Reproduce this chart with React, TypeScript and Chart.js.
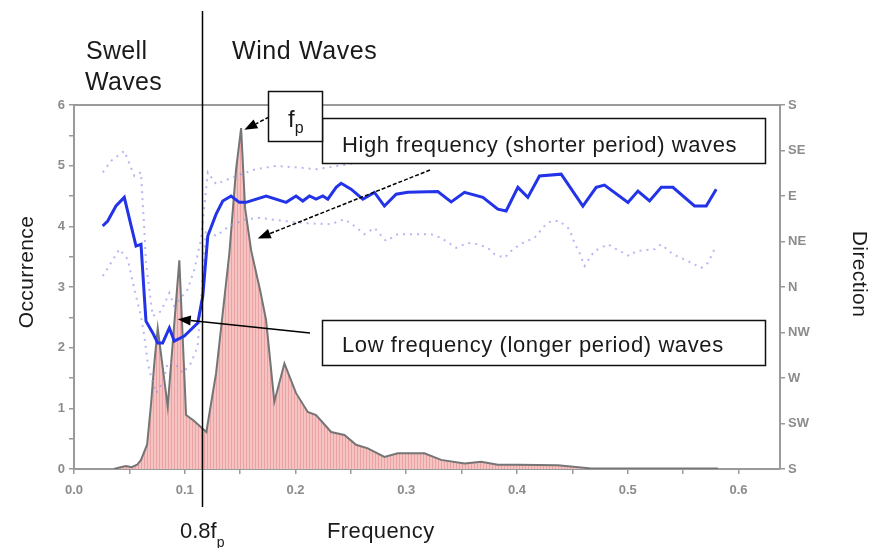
import React, { useEffect, useRef } from "react";
import { Chart, registerables } from "chart.js";

Chart.register(...registerables);

// ---- Data ----
const occFreq = [
  0.036, 0.042, 0.047, 0.052, 0.057, 0.0605, 0.066, 0.0696, 0.0725, 0.0756,
  0.0846, 0.0951, 0.1012, 0.108, 0.1195, 0.1283, 0.1403, 0.1463, 0.1509, 0.1545,
  0.160, 0.168, 0.1734, 0.1809, 0.19, 0.2005, 0.2111, 0.2186, 0.2322, 0.2442,
  0.2547, 0.2653, 0.2803, 0.2924, 0.3164, 0.3315, 0.3526, 0.3677, 0.3827, 0.4008,
  0.4369, 0.467, 0.5815,
];
const occValues = [
  0.0, 0.03, 0.05, 0.03, 0.07, 0.15, 0.4, 1.08, 1.74, 2.32,
  1.03, 3.44, 0.89, 0.8, 0.61, 1.58, 3.56, 4.93, 5.62, 4.3,
  3.6, 2.95, 2.46, 1.11, 1.74, 1.25, 0.94, 0.89, 0.61, 0.56,
  0.4, 0.34, 0.2, 0.26, 0.26, 0.15, 0.09, 0.12, 0.07, 0.07,
  0.06, 0.01, 0.01,
];

// Mean direction (0 = S, 1 = SW, 2 = W, 3 = NW, 4 = N, 5 = NE, 6 = E, 7 = SE, 8 = S)
const dirFreq = [
  0.0259, 0.0304, 0.0379, 0.0454, 0.056, 0.0605, 0.0635, 0.065, 0.0711, 0.0756,
  0.0801, 0.0861, 0.0906, 0.0996, 0.1117, 0.1163, 0.1208, 0.1283, 0.1343, 0.1418,
  0.1493, 0.1554, 0.1735, 0.1915, 0.2005, 0.2066, 0.2126, 0.2186, 0.2247, 0.2292,
  0.2367, 0.2412, 0.2502, 0.2608, 0.2713, 0.2803, 0.2909, 0.3014, 0.3285, 0.3406,
  0.3526, 0.3692, 0.3827, 0.3902, 0.4008, 0.4098, 0.4203, 0.4399, 0.4595, 0.4715,
  0.479, 0.5002, 0.5092, 0.5197, 0.5303, 0.5408, 0.5603, 0.5709, 0.5799,
];
const dirValues = [
  5.34, 5.45, 5.78, 5.97, 4.9, 4.94, 3.8, 3.25, 2.99, 2.77,
  2.77, 3.1, 2.81, 2.92, 3.21, 3.8, 5.12, 5.6, 5.89, 6.0,
  5.86, 5.86, 6.0, 5.86, 6.0, 5.89, 6.0, 5.93, 6.0, 5.93,
  6.19, 6.28, 6.15, 5.93, 6.08, 5.78, 6.04, 6.08, 6.1, 5.87,
  6.08, 5.97, 5.71, 5.67, 6.19, 5.97, 6.44, 6.48, 5.78, 6.19,
  6.24, 5.86, 6.11, 5.89, 6.19, 6.19, 5.78, 5.78, 6.15,
];

// Upper spread of direction (dotted)
const upperFreq = [
  0.026, 0.0334, 0.0454, 0.0545, 0.0605, 0.062, 0.0635, 0.065, 0.068, 0.0711,
  0.0786, 0.0861, 0.0906, 0.1027, 0.1087, 0.1147, 0.1208, 0.1283, 0.1463, 0.1644,
  0.1825, 0.2005, 0.2186, 0.2306, 0.26, 0.3, 0.34, 0.38, 0.42, 0.46,
  0.5, 0.54, 0.58,
];
const upperValues = [
  6.52, 6.77, 6.99, 6.44, 6.52, 5.86, 5.27, 4.53, 3.95, 3.36,
  3.47, 3.87, 3.58, 3.95, 4.39, 5.05, 6.52, 6.26, 6.44, 6.59,
  6.66, 6.63, 6.59, 6.63, 6.75, 6.8, 6.75, 6.9, 6.85, 6.95,
  6.9, 6.95, 6.9,
];

// Lower spread of direction (dotted)
const lowerFreq = [
  0.026, 0.0334, 0.0409, 0.0485, 0.0545, 0.0605, 0.0635, 0.0666, 0.0696, 0.0741,
  0.0801, 0.0846, 0.0906, 0.0982, 0.1057, 0.1117, 0.1163, 0.1192, 0.1283, 0.1403,
  0.1554, 0.1674, 0.19, 0.21, 0.2322, 0.2442, 0.2532, 0.2622, 0.2713, 0.2818,
  0.2924, 0.3074, 0.3225, 0.3315, 0.3451, 0.3556, 0.3647, 0.3737, 0.3797, 0.3887,
  0.3963, 0.4053, 0.4158, 0.4248, 0.4309, 0.4384, 0.4474, 0.4519, 0.4565, 0.461,
  0.4655, 0.47, 0.4821, 0.4896, 0.5016, 0.5077, 0.5242, 0.5303, 0.5408, 0.5544,
  0.5664, 0.5724, 0.5784,
];
const lowerValues = [
  4.24, 4.53, 4.83, 4.61, 3.95, 3.36, 2.92, 2.33, 2.03, 1.67,
  1.89, 2.33, 2.33, 2.11, 2.33, 2.7, 4.24, 5.27, 5.12, 5.34,
  5.49, 5.52, 5.45, 5.4, 5.38, 5.49, 5.34, 5.16, 5.3, 5.01,
  5.16, 5.16, 5.16, 5.08, 4.86, 4.97, 4.94, 4.86, 4.72, 4.64,
  4.83, 4.97, 5.08, 5.34, 5.45, 5.45, 5.27, 4.97, 4.75, 4.46,
  4.64, 4.79, 4.94, 4.83, 4.68, 4.79, 4.83, 4.94, 4.72, 4.57,
  4.42, 4.53, 4.83,
];

const xTickLabels = ["0.0", "0.1", "0.2", "0.3", "0.4", "0.5", "0.6"];
const yTickLabels = ["0", "1", "2", "3", "4", "5", "6"];
const dirLabels = ["S", "SW", "W", "NW", "N", "NE", "E", "SE", "S"];

const markerFreq = 0.116; // 0.8 fp line
const fpTip = { x: 0.1538, y: 5.59 };
const highTip = { x: 0.1659, y: 3.8 };
const lowTip = { x: 0.0937, y: 2.47 };

const FONT = '"Liberation Sans", Arial, sans-serif';

function drawArrow(
  ctx: CanvasRenderingContext2D,
  x1: number,
  y1: number,
  x2: number,
  y2: number,
  dashed: boolean
) {
  const ang = Math.atan2(y2 - y1, x2 - x1);
  const hl = 13;
  const hw = 5;
  const bx = x2 - hl * Math.cos(ang);
  const by = y2 - hl * Math.sin(ang);
  ctx.save();
  ctx.strokeStyle = "#000";
  ctx.fillStyle = "#000";
  ctx.lineWidth = 1.5;
  ctx.setLineDash(dashed ? [4, 2] : []);
  ctx.beginPath();
  ctx.moveTo(x1, y1);
  ctx.lineTo(bx, by);
  ctx.stroke();
  ctx.setLineDash([]);
  ctx.beginPath();
  ctx.moveTo(x2, y2);
  ctx.lineTo(bx + hw * Math.sin(ang), by - hw * Math.cos(ang));
  ctx.lineTo(bx - hw * Math.sin(ang), by + hw * Math.cos(ang));
  ctx.closePath();
  ctx.fill();
  ctx.restore();
}

function drawBox(ctx: CanvasRenderingContext2D, x: number, y: number, w: number, h: number) {
  ctx.save();
  ctx.fillStyle = "#fff";
  ctx.fillRect(x, y, w, h);
  ctx.strokeStyle = "#111";
  ctx.lineWidth = 1.5;
  ctx.strokeRect(x + 0.5, y + 0.5, w, h);
  ctx.restore();
}

function setSpacing(ctx: CanvasRenderingContext2D, px: number) {
  (ctx as any).letterSpacing = `${px}px`;
}

const annotationPlugin = {
  id: "waveAnnotations",
  afterDraw(chart: any) {
    const ctx: CanvasRenderingContext2D = chart.ctx;
    const xs = chart.scales.x;
    const ys = chart.scales.y;
    const area = chart.chartArea;
    ctx.save();

    // top frame line
    ctx.strokeStyle = "#9a9a9a";
    ctx.lineWidth = 2;
    ctx.beginPath();
    ctx.moveTo(area.left, area.top);
    ctx.lineTo(area.right, area.top);
    ctx.stroke();

    // 0.8 fp vertical line
    const vx = Math.round(xs.getPixelForValue(markerFreq)) + 0.5;
    ctx.strokeStyle = "#000";
    ctx.lineWidth = 1.5;
    ctx.beginPath();
    ctx.moveTo(vx, 11);
    ctx.lineTo(vx, 507);
    ctx.stroke();

    // region labels
    ctx.fillStyle = "#1a1a1a";
    ctx.textAlign = "left";
    ctx.textBaseline = "alphabetic";
    ctx.font = `25px ${FONT}`;
    setSpacing(ctx, 0.3);
    ctx.fillText("Swell", 86, 59);
    ctx.fillText("Waves", 85, 90);
    setSpacing(ctx, 0.6);
    ctx.fillText("Wind Waves", 232, 59);
    setSpacing(ctx, 0);

    // arrows
    drawArrow(ctx, 430, 170, xs.getPixelForValue(highTip.x), ys.getPixelForValue(highTip.y), true);
    drawArrow(ctx, 310, 333, xs.getPixelForValue(lowTip.x), ys.getPixelForValue(lowTip.y), false);
    drawArrow(ctx, 269, 117, xs.getPixelForValue(fpTip.x), ys.getPixelForValue(fpTip.y), true);

    // boxes
    drawBox(ctx, 322, 118, 443, 45);
    drawBox(ctx, 322, 320, 443, 45);
    drawBox(ctx, 268, 91, 54, 50);

    ctx.fillStyle = "#1a1a1a";
    ctx.font = `22px ${FONT}`;
    setSpacing(ctx, 0.6);
    ctx.fillText("High frequency (shorter period) waves", 342, 152);
    ctx.fillText("Low frequency (longer period) waves", 342, 352);
    setSpacing(ctx, 0);

    // f_p
    ctx.font = `24px ${FONT}`;
    ctx.fillText("f", 288, 127);
    const fw = ctx.measureText("f").width;
    ctx.font = `16px ${FONT}`;
    ctx.fillText("p", 288 + fw, 133);

    // 0.8 f_p
    ctx.font = `22px ${FONT}`;
    ctx.fillText("0.8f", 180, 538);
    const w08 = ctx.measureText("0.8f").width;
    ctx.font = `14px ${FONT}`;
    ctx.fillText("p", 180 + w08, 547);

    // axis titles
    ctx.font = `22px ${FONT}`;
    setSpacing(ctx, 0.4);
    ctx.fillText("Frequency", 327, 538);

    ctx.save();
    ctx.translate(27, 272);
    ctx.rotate(-Math.PI / 2);
    ctx.textAlign = "center";
    ctx.textBaseline = "middle";
    ctx.font = `21px ${FONT}`;
    ctx.fillText("Occurrence", 0, 0);
    ctx.restore();

    ctx.save();
    ctx.translate(859, 274);
    ctx.rotate(Math.PI / 2);
    ctx.textAlign = "center";
    ctx.textBaseline = "middle";
    ctx.font = `21px ${FONT}`;
    ctx.fillText("Direction", 0, 0);
    ctx.restore();
    setSpacing(ctx, 0);

    ctx.restore();
  },
};

export default function App() {
  const canvasRef = useRef<HTMLCanvasElement | null>(null);

  useEffect(() => {
    const canvas = canvasRef.current;
    if (!canvas) return;

    // striped pink fill (histogram bars)
    const pc = document.createElement("canvas");
    pc.width = 3;
    pc.height = 4;
    const pctx = pc.getContext("2d")!;
    pctx.fillStyle = "#f6c3c3";
    pctx.fillRect(0, 0, 3, 4);
    pctx.fillStyle = "#eaa2a2";
    pctx.fillRect(0, 0, 1, 4);
    const pinkPattern = canvas.getContext("2d")!.createPattern(pc, "repeat");

    const toPts = (xs: number[], ys: number[]) => xs.map((x, i) => ({ x, y: ys[i] }));

    const tickFont = { family: FONT, size: 13, weight: "bold" as const };
    const tickColor = "#8c8c8c";
    const axisColor = "#9a9a9a";
    const dotColor = "rgba(145,145,235,0.65)";

    const chart = new Chart(canvas, {
      type: "line",
      data: {
        datasets: [
          {
            label: "Mean direction",
            data: toPts(dirFreq, dirValues),
            yAxisID: "y2",
            borderColor: "#2233e8",
            borderWidth: 3,
            pointRadius: 0,
            tension: 0,
            fill: false,
            order: 0,
          },
          {
            label: "Upper spread",
            data: toPts(upperFreq, upperValues),
            yAxisID: "y2",
            borderColor: dotColor,
            borderDash: [2, 5],
            borderWidth: 2,
            pointRadius: 0,
            fill: false,
            order: 1,
          },
          {
            label: "Lower spread",
            data: toPts(lowerFreq, lowerValues),
            yAxisID: "y2",
            borderColor: dotColor,
            borderDash: [2, 5],
            borderWidth: 2,
            pointRadius: 0,
            fill: false,
            order: 1,
          },
          {
            label: "Occurrence",
            data: toPts(occFreq, occValues),
            yAxisID: "y",
            borderColor: "#757575",
            borderWidth: 2,
            backgroundColor: pinkPattern as any,
            pointRadius: 0,
            tension: 0,
            fill: "origin",
            order: 2,
          },
        ],
      },
      options: {
        responsive: false,
        animation: false,
        devicePixelRatio: 1,
        layout: { padding: { top: 105, left: 0, right: 0, bottom: 0 } },
        plugins: {
          legend: { display: false },
          tooltip: { enabled: false },
          title: { display: false },
        },
        scales: {
          x: {
            type: "linear",
            min: 0,
            max: 0.6375,
            border: { display: true, color: axisColor, width: 2 },
            grid: {
              drawOnChartArea: false,
              drawTicks: true,
              tickLength: 5,
              color: axisColor,
              lineWidth: 1.5,
            },
            ticks: {
              stepSize: 0.05,
              includeBounds: false,
              autoSkip: false,
              maxRotation: 0,
              padding: 9,
              color: tickColor,
              font: tickFont,
              callback: (value: any) => {
                const v = Number(value);
                const i = Math.round(v * 10);
                return Math.abs(v - i / 10) < 1e-6 ? xTickLabels[i] ?? "" : "";
              },
            },
            afterFit: (scale: any) => {
              scale.height = 79;
            },
          },
          y: {
            type: "linear",
            position: "left",
            min: 0,
            max: 6,
            border: { display: true, color: axisColor, width: 2 },
            grid: {
              drawOnChartArea: false,
              tickLength: 5,
              color: axisColor,
              lineWidth: 1.5,
            },
            ticks: {
              stepSize: 0.5,
              autoSkip: false,
              padding: 4,
              color: tickColor,
              font: tickFont,
              callback: (value: any) => {
                const v = Number(value);
                return Number.isInteger(v) ? yTickLabels[v] ?? "" : "";
              },
            },
            afterFit: (scale: any) => {
              scale.width = 74;
            },
          },
          y2: {
            type: "linear",
            position: "right",
            min: 0,
            max: 8,
            border: { display: true, color: axisColor, width: 2 },
            grid: {
              drawOnChartArea: false,
              tickLength: 5,
              color: axisColor,
              lineWidth: 1.5,
            },
            ticks: {
              stepSize: 1,
              autoSkip: false,
              padding: 3,
              color: tickColor,
              font: tickFont,
              callback: (value: any) => dirLabels[Number(value)] ?? "",
            },
            afterFit: (scale: any) => {
              scale.width = 91;
            },
          },
        },
      },
      plugins: [annotationPlugin],
    });

    return () => {
      chart.destroy();
    };
  }, []);

  return (
    <div
      style={{
        position: "absolute",
        left: 0,
        top: 0,
        width: 871,
        height: 548,
        background: "#fff",
      }}
    >
      <canvas ref={canvasRef} width={871} height={548} style={{ width: 871, height: 548 }} />
    </div>
  );
}
